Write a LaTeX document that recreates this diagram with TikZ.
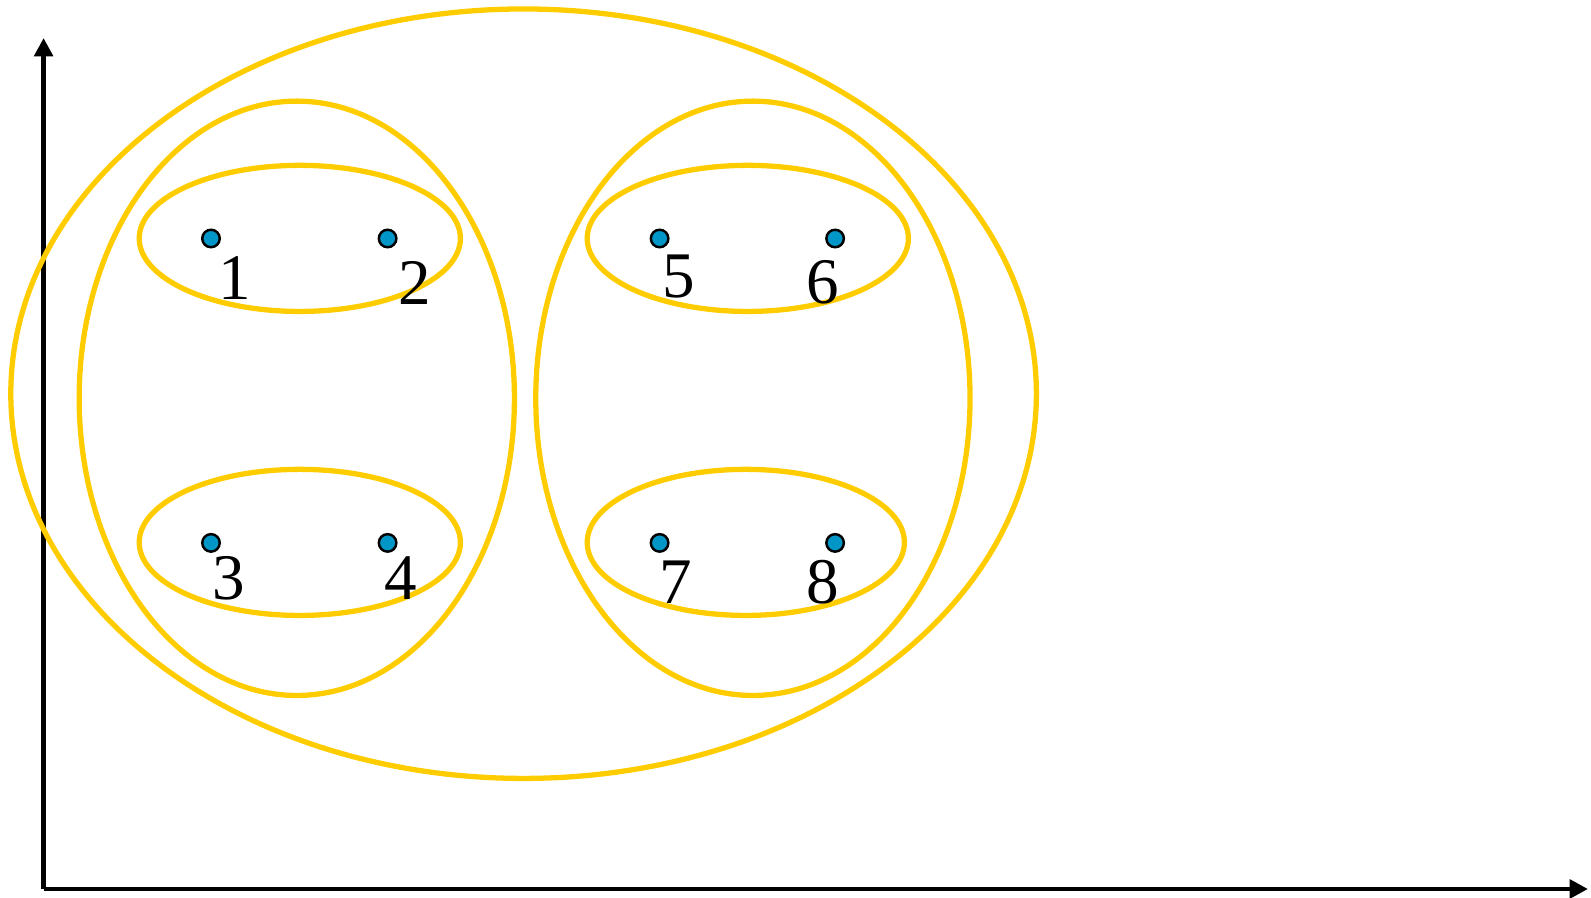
\documentclass[tikz,border=0pt]{standalone}
\usepackage{fontspec}
\setmainfont{Liberation Serif}
\usetikzlibrary{shapes.geometric, arrows.meta, positioning}
\usepackage{xcolor}
\definecolor{clusteryellow}{HTML}{FFCC00}
\definecolor{pointblue}{HTML}{0096C8}

\begin{document}
\begin{tikzpicture}[
    x=0.01cm, y=-0.01cm,
    >={Triangle[length=5.2pt, width=5.2pt]},
    font=\fontsize{18.5}{20}\selectfont,
    group/.style={draw=clusteryellow, ellipse, line width=1.5pt, inner sep=0pt},
    pt/.style={circle, draw=black, fill=pointblue, line width=0.7pt, minimum size=0.175cm, inner sep=0pt},
    num/.style={inner sep=0pt},
    axis/.style={->, line width=1.4pt, black}
  ]
    \useasboundingbox (0,0) rectangle (1591,898);
    % axes
    \coordinate (origin) at (43.6,889);
    \coordinate (ytip) at (43.6,38);
    \coordinate (xtip) at (1588,889);
    \draw[axis] (origin) -- (ytip);
    \draw[axis] (origin) -- (xtip);
    % clusters
    \node[group, minimum width=10.25cm, minimum height=7.69cm] (all) at (523.6,393.7) {};
    \node[group, minimum width=4.35cm, minimum height=5.94cm] (left) at (296.8,398.3) {};
    \node[group, minimum width=4.34cm, minimum height=5.94cm] (right) at (752.9,398.3) {};
    \node[group, minimum width=3.21cm, minimum height=1.46cm] (g12) at (299.8,238.4) {};
    \node[group, minimum width=3.21cm, minimum height=1.46cm] (g34) at (299.8,542.4) {};
    \node[group, minimum width=3.21cm, minimum height=1.46cm] (g56) at (747.8,238.4) {};
    \node[group, minimum width=3.17cm, minimum height=1.46cm] (g78) at (745.8,542.4) {};
    % points
    \node[pt] (p1) at (211,238.5) {};
    \node[pt] (p2) at (387.6,238.5) {};
    \node[pt] (p3) at (211,542.9) {};
    \node[pt] (p4) at (387.6,542.9) {};
    \node[pt] (p5) at (659.6,238.5) {};
    \node[pt] (p6) at (835.1,238.5) {};
    \node[pt] (p7) at (659.6,542.9) {};
    \node[pt] (p8) at (835.1,542.9) {};
    % labels
    \node[num] (l1) at (234.4,278) {1};
    \node[num] (l2) at (415,283.1) {2};
    \node[num] (l3) at (228.3,578.4) {3};
    \node[num] (l4) at (400.8,578.4) {4};
    \node[num] (l5) at (678.8,277) {5};
    \node[num] (l6) at (822.9,282.1) {6};
    \node[num] (l7) at (675.8,582.4) {7};
    \node[num] (l8) at (822.9,582.4) {8};
  \end{tikzpicture}
\end{document}
